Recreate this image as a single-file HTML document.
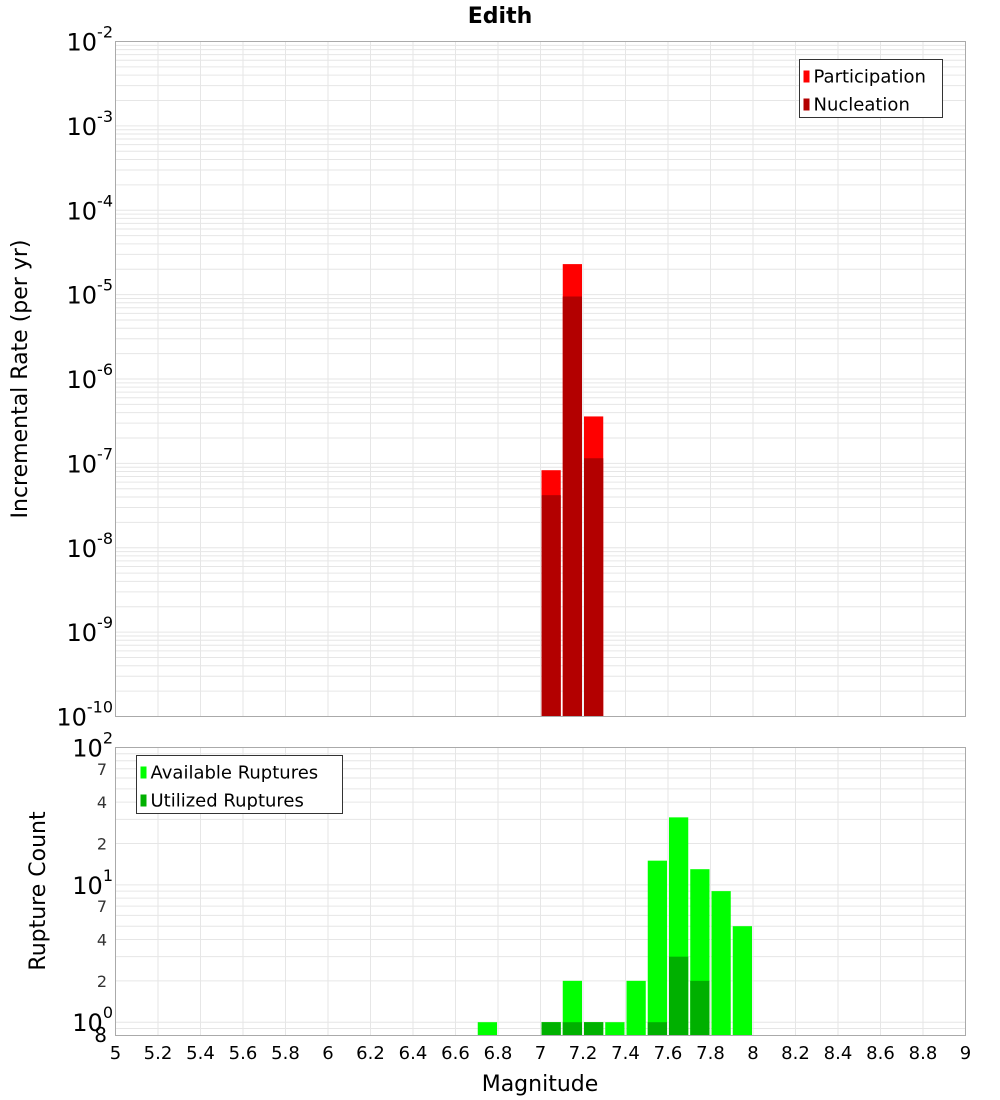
<!DOCTYPE html>
<html><head><meta charset="utf-8"><style>
body{margin:0;background:#fff;}
svg{display:block;font-family:"DejaVu Sans","Liberation Sans",sans-serif;}
</style></head><body>
<svg id="c" width="1000" height="1100"></svg>
<script>
const bins = [6.75,7.05,7.15,7.25,7.35,7.45,7.55,7.65,7.75,7.85,7.95];
const participation = [0,8.3e-8,2.3e-5,3.6e-7,0,0,0,0,0,0,0];
const nucleation = [0,4.2e-8,9.5e-6,1.15e-7,0,0,0,0,0,0,0];
const available = [1,1,2,1,1,2,15,31,13,9,5];
const utilized = [0,1,1,1,0,0,1,3,2,0,0];
const xTicks = ["5","5.2","5.4","5.6","5.8","6","6.2","6.4","6.6","6.8","7","7.2","7.4","7.6","7.8","8","8.2","8.4","8.6","8.8","9"];
const topExps = [-2,-3,-4,-5,-6,-7,-8,-9,-10];
const botMinor = [2,4,7,20,40,70];

const NS="http://www.w3.org/2000/svg";
const svg=document.getElementById('c');
function el(tag,attrs,parent,text){const e=document.createElementNS(NS,tag);for(const k in attrs)e.setAttribute(k,attrs[k]);if(text!==undefined)e.textContent=text;(parent||svg).appendChild(e);return e;}
const L=115.5,R=965.5;
const X=m=>L+(m-5)/4*(R-L);
const T1=41.5,B1=716.5;
const Y1=v=>T1+(-2-Math.log10(v))/8*(B1-T1);
const T2=747.5,B2=1035.5;
const Y2=v=>T2+(2-Math.log10(v))/(2-Math.log10(0.8))*(B2-T2);

// title
let t=el('text',{x:500,y:23,'text-anchor':'middle','font-size':22,'font-weight':'bold'},svg,'Edith');


function grid(top,bot,Yf,lo,hi,name){
  const g=el('g',{});
  
  el('rect',{x:L,y:top,width:R-L,height:bot-top,fill:'#fff'},g);
  for(let i=0;i<xTicks.length;i++){const x=X(5+i*0.2);el('line',{x1:x,x2:x,y1:top,y2:bot,stroke:'#e6e6e6','stroke-width':1},g);}
  for(let e=lo;e<hi;e++){for(let k=1;k<10;k++){const v=k*Math.pow(10,e);const y=Yf(v);if(y<top-0.5||y>bot+0.5)continue;el('line',{x1:L,x2:R,y1:y,y2:y,stroke:'#e6e6e6','stroke-width':1},g);}}
}
grid(T1,B1,Y1,-10,-2,'top-grid');
grid(T2,B2,Y2,-1,2,'bottom-grid');

function bars(vals,color,Yf,bot,name){
  vals.forEach((v,i)=>{if(v<=0)return;const x0=X(bins[i]-0.05),x1=X(bins[i]+0.05);const y=Yf(v);
    const r=el('rect',{x:x0+1,y:y,width:x1-x0-2,height:bot-y,fill:color});
    });
}
bars(participation,'#ff0000',Y1,B1,'participation');
bars(nucleation,'#b30000',Y1,B1,'nucleation');
bars(available,'#00ff00',Y2,B2,'available');
bars(utilized,'#00b000',Y2,B2,'utilized');

el('rect',{x:L,y:T1,width:R-L,height:B1-T1,fill:'none',stroke:'#aaa'});
el('rect',{x:L,y:T2,width:R-L,height:B2-T2,fill:'none',stroke:'#aaa'});

// top y labels
topExps.forEach(e=>{const y=Y1(Math.pow(10,e));
  const g=el('text',{x:113,y:y+9,'text-anchor':'end','font-size':24});
  
  el('tspan',{},g,'10');el('tspan',{dy:-13,'font-size':16},g,String(e));});
// bottom y labels
[2,1,0].forEach(e=>{const y=Y2(Math.pow(10,e));
  const g=el('text',{x:113,y:y+9,'text-anchor':'end','font-size':24});
  
  el('tspan',{},g,'10');el('tspan',{dy:-13,'font-size':16},g,String(e));});
botMinor.forEach(v=>{const s=String(v).charAt(0);const y=Y2(v);
  const m=el('text',{x:107,y:y+6,'text-anchor':'end','font-size':16,fill:'#333'},svg,s);
  });
let e8=el('text',{x:107,y:1042,'text-anchor':'end','font-size':20},svg,'8');


// x labels
xTicks.forEach((s,i)=>{const x=X(5+i*0.2);const tt=el('text',{x:x,y:1059,'text-anchor':'middle','font-size':18},svg,s);
  });
let xt=el('text',{x:540,y:1091,'text-anchor':'middle','font-size':22},svg,'Magnitude');

let yt=el('text',{x:0,y:0,'text-anchor':'middle','font-size':22,transform:'translate(27,379) rotate(-90)'},svg,'Incremental Rate (per yr)');

let yt2=el('text',{x:0,y:0,'text-anchor':'middle','font-size':22,transform:'translate(45,891) rotate(-90)'},svg,'Rupture Count');


function legend(x,y,w,items,name){
  const g=el('g',{});
  el('rect',{x:x,y:y,width:w,height:58,fill:'#fff',stroke:'#333'},g);
  items.forEach((it,i)=>{const cy=y+18+i*28;
    el('rect',{x:x+4,y:cy-7,width:6,height:12,fill:it[1]},g);
    const tx=el('text',{x:x+14,y:cy+5,'font-size':18},g,it[0]);
    });
}
legend(799.5,59.5,143,[['Participation','#ff0000'],['Nucleation','#b30000']],'top-legend');
legend(136.5,755.5,206,[['Available Ruptures','#00ff00'],['Utilized Ruptures','#00b000']],'bottom-legend');
</script>
</body></html>
